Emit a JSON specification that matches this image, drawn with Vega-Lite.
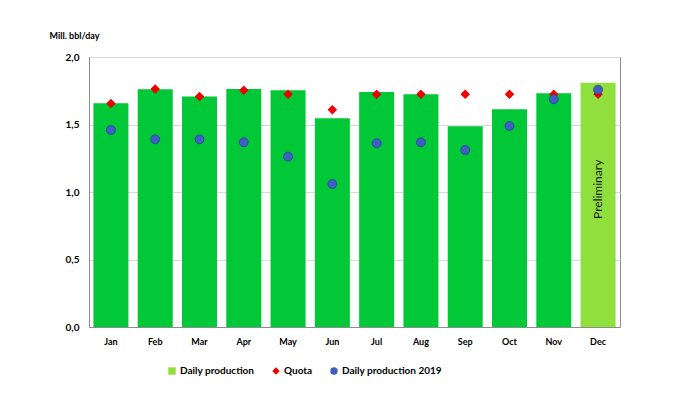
{
  "$schema": "https://vega.github.io/schema/vega-lite/v6.json",
  "width": 531,
  "height": 270,
  "autosize": {"type": "none"},
  "padding": {"left": 89, "top": 57, "right": 59, "bottom": 88},
  "background": "white",
  "config": {
    "view": {"stroke": "#8c8c8c", "strokeWidth": 1},
    "font": "Lato"
  },
  "data": {
    "values": [
      {"month": "Jan", "prod": 1.657, "quota": 1.655, "prod2019": 1.459},
      {"month": "Feb", "prod": 1.761, "quota": 1.763, "prod2019": 1.390},
      {"month": "Mar", "prod": 1.707, "quota": 1.707, "prod2019": 1.390},
      {"month": "Apr", "prod": 1.763, "quota": 1.753, "prod2019": 1.368},
      {"month": "May", "prod": 1.753, "quota": 1.724, "prod2019": 1.262},
      {"month": "Jun", "prod": 1.546, "quota": 1.610, "prod2019": 1.059},
      {"month": "Jul", "prod": 1.741, "quota": 1.724, "prod2019": 1.361},
      {"month": "Aug", "prod": 1.724, "quota": 1.724, "prod2019": 1.368},
      {"month": "Sep", "prod": 1.487, "quota": 1.724, "prod2019": 1.311},
      {"month": "Oct", "prod": 1.613, "quota": 1.724, "prod2019": 1.489},
      {"month": "Nov", "prod": 1.731, "quota": 1.724, "prod2019": 1.687},
      {"month": "Dec", "prod": 1.810, "quota": 1.724, "prod2019": 1.758, "note": "Preliminary"}
    ]
  },
  "encoding": {
    "x": {
      "field": "month",
      "type": "ordinal",
      "sort": null,
      "scale": {"paddingInner": 0.21, "paddingOuter": 0.1},
      "axis": {
        "title": null,
        "labelAngle": 0,
        "ticks": false,
        "labelPadding": 10,
        "labelFont": "Lato",
        "labelFontWeight": "bold",
        "labelFontSize": 9,
        "labelColor": "#000",
        "domainColor": "#8c8c8c"
      }
    }
  },
  "layer": [
    {
      "mark": {"type": "bar"},
      "encoding": {
        "y": {
          "field": "prod",
          "type": "quantitative",
          "scale": {"domain": [0, 2], "nice": false},
          "axis": {
            "title": "Mill. bbl/day",
            "titleAngle": 0,
            "titleX": -40,
            "titleY": -22,
            "titleAlign": "left",
            "titleBaseline": "middle",
            "titleFont": "Lato",
            "titleFontSize": 9,
            "titleFontWeight": "bold",
            "titleColor": "#000",
            "values": [0, 0.5, 1, 1.5, 2],
            "labelExpr": "replace(format(datum.value, '.1f'), '.', ',')",
            "labelFont": "Lato",
            "labelFontWeight": "bold",
            "labelFontSize": 10,
            "labelColor": "#000",
            "labelPadding": 10,
            "ticks": false,
            "grid": true,
            "gridColor": "#d9d9d9",
            "domainColor": "#8c8c8c"
          }
        },
        "color": {
          "condition": {"test": "datum.month !== 'Dec'", "value": "#00C837"},
          "datum": "Daily production",
          "type": "nominal",
          "scale": {
            "domain": ["Daily production", "Quota", "Daily production 2019"],
            "range": ["#8FE03D", "#EE0000", "#3F5FC4"]
          },
          "legend": {
            "title": null,
            "orient": "none",
            "legendX": 78,
            "legendY": 309,
            "direction": "horizontal",
            "columnPadding": 16,
            "labelFont": "Lato",
            "labelFontWeight": "bold",
            "labelFontSize": 10,
            "labelColor": "#000",
            "symbolSize": 55,
            "symbolStrokeWidth": 0,
            "labelOffset": 3,
            "encode": {
              "symbols": {
                "update": {
                  "shape": {"signal": "datum.label === 'Daily production' ? 'square' : datum.label === 'Quota' ? 'diamond' : 'circle'"}
                }
              }
            }
          }
        }
      }
    },
    {
      "mark": {"type": "point", "filled": true, "shape": "diamond", "size": 90, "opacity": 1},
      "encoding": {
        "y": {"field": "quota", "type": "quantitative"},
        "color": {"datum": "Quota", "type": "nominal"}
      }
    },
    {
      "mark": {"type": "point", "filled": true, "shape": "circle", "size": 80, "opacity": 1, "stroke": "#2a4496", "strokeWidth": 0.8},
      "encoding": {
        "y": {"field": "prod2019", "type": "quantitative"},
        "color": {"datum": "Daily production 2019", "type": "nominal"}
      }
    },
    {
      "transform": [{"filter": "datum.note"}],
      "mark": {"type": "text", "angle": 270, "fontSize": 12, "font": "Lato", "color": "#1a1a1a", "align": "center", "baseline": "middle"},
      "encoding": {
        "y": {"datum": 1.02, "type": "quantitative"},
        "text": {"field": "note"}
      }
    }
  ]
}
